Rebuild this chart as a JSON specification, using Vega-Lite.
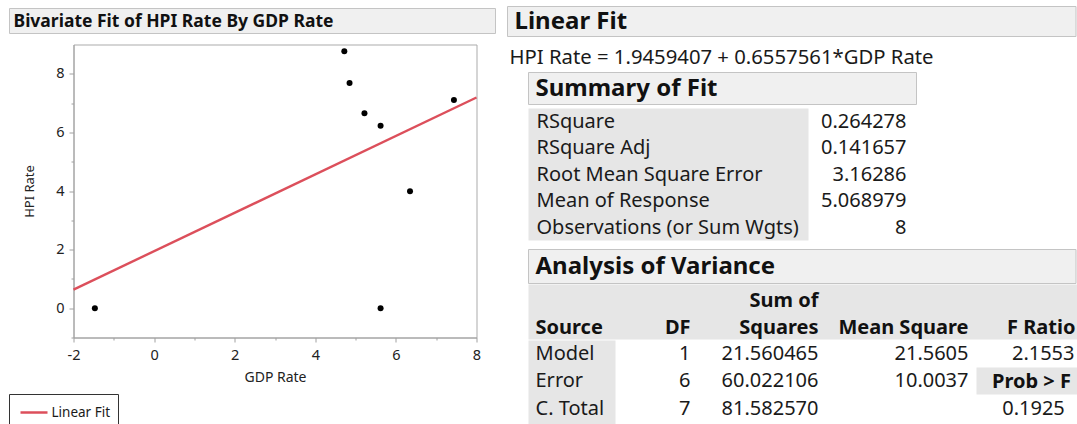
{
  "$schema": "https://vega.github.io/schema/vega-lite/v6.json",
  "width": 403,
  "height": 293,
  "autosize": {"type": "pad"},
  "padding": {"left": 8.5, "top": 5.5, "right": 0, "bottom": 0},
  "background": "white",
  "config": {
    "view": {"stroke": "#ababab", "strokeWidth": 1},
    "font": "Noto Sans",
    "text": {"font": "Noto Sans", "color": "#1a1a1a", "baseline": "middle"}
  },
  "datasets": {
    "points": [
      {"GDP Rate": 4.72, "HPI Rate": 8.77},
      {"GDP Rate": 4.85, "HPI Rate": 7.69},
      {"GDP Rate": 5.22, "HPI Rate": 6.65},
      {"GDP Rate": 5.62, "HPI Rate": 6.23},
      {"GDP Rate": 7.44, "HPI Rate": 7.11},
      {"GDP Rate": 6.35, "HPI Rate": 3.99},
      {"GDP Rate": 5.62, "HPI Rate": 0},
      {"GDP Rate": -1.47, "HPI Rate": 0}
    ],
    "fit": [
      {"GDP Rate": -2, "HPI Rate": 0.6344285},
      {"GDP Rate": 8, "HPI Rate": 7.1919895}
    ],
    "summary": [
      {"Statistic": "RSquare", "Value": "0.264278"},
      {"Statistic": "RSquare Adj", "Value": "0.141657"},
      {"Statistic": "Root Mean Square Error", "Value": "3.16286"},
      {"Statistic": "Mean of Response", "Value": "5.068979"},
      {"Statistic": "Observations (or Sum Wgts)", "Value": "8"}
    ],
    "anova": [
      {"Source": "Model", "DF": "1", "Sum of Squares": "21.560465", "Mean Square": "21.5605", "F Ratio": "2.1553", "Prob > F": "0.1925"},
      {"Source": "Error", "DF": "6", "Sum of Squares": "60.022106", "Mean Square": "10.0037", "F Ratio": ""},
      {"Source": "C. Total", "DF": "7", "Sum of Squares": "81.582570", "Mean Square": "", "F Ratio": ""}
    ]
  },
  "layer": [
    {
      "data": {"name": "points"},
      "layer": [
        {
          "data": {"name": "fit"},
          "mark": {"type": "line", "color": "#dc4f5b", "strokeWidth": 2.4},
          "encoding": {
            "x": {"field": "GDP Rate", "type": "quantitative",
              "scale": {"domain": [-2, 8], "nice": false, "zero": false},
              "axis": {"title": "GDP Rate", "values": [-2, 0, 2, 4, 6, 8], "labelExpr": "datum.value + ''", "grid": false, "tickSize": 4.5, "tickColor": "#a0a0a0", "domainColor": "#a0a0a0", "labelFontSize": 14.5, "labelColor": "#222", "labelPadding": 6, "labelFlush": false, "titleFontSize": 14, "titleFontWeight": "normal", "titleColor": "#222", "titlePadding": 9}},
            "y": {"field": "HPI Rate", "type": "quantitative",
              "scale": {"domain": [-1, 9], "nice": false, "zero": false},
              "axis": {"title": "HPI Rate", "values": [0, 2, 4, 6, 8], "grid": false, "tickSize": 4.5, "tickColor": "#a0a0a0", "domainColor": "#a0a0a0", "labelFontSize": 14.5, "labelColor": "#222", "labelPadding": 5, "labelFlush": false, "titleFontSize": 13, "titleFontWeight": "normal", "titleColor": "#222", "titlePadding": 19}}
          }
        },
        {
          "mark": {"type": "circle", "color": "#000", "opacity": 1, "size": 36},
          "encoding": {
            "x": {"field": "GDP Rate", "type": "quantitative"},
            "y": {"field": "HPI Rate", "type": "quantitative"}
          }
        }
      ]
    },
    {
      "data": {"name": "fit"},
      "mark": {"type": "point", "opacity": 0},
      "encoding": {
        "x": {"field": "GDP Rate", "type": "quantitative",
          "scale": {"domain": [-2, 8], "nice": false, "zero": false},
          "axis": {"orient": "bottom", "title": null, "values": [-1, 1, 3, 5, 7], "labels": false, "domain": false, "grid": false, "tickSize": 2.5, "tickColor": "#a0a0a0"}},
        "y": {"field": "HPI Rate", "type": "quantitative",
          "scale": {"domain": [-1, 9], "nice": false, "zero": false},
          "axis": {"orient": "left", "title": null, "values": [-1, 1, 3, 5, 7], "labels": false, "domain": false, "grid": false, "tickSize": 2.5, "tickColor": "#a0a0a0"}}
      }
    },
    {
      "data": {"values": [{"frame": "report"}]},
      "layer": [
        {"mark": {"type": "rect", "fill": "#f0f0f0", "stroke": "#c4c4c4", "strokeWidth": 1},
          "encoding": {"x": {"datum": 9, "type": "quantitative", "scale": {"domain": [0, 1077], "range": [-73, 1004], "nice": false, "zero": false}, "axis": null}, "x2": {"datum": 495},
            "y": {"datum": 8, "type": "quantitative", "scale": {"domain": [0, 424], "range": [-44, 380], "nice": false, "zero": false}, "axis": null}, "y2": {"datum": 33}}},
        {"mark": {"type": "rect", "fill": "#f0f0f0", "stroke": "#c4c4c4", "strokeWidth": 1},
          "encoding": {"x": {"datum": 507, "type": "quantitative", "axis": null}, "x2": {"datum": 1075.5}, "y": {"datum": 6, "type": "quantitative", "axis": null}, "y2": {"datum": 36}}},
        {"mark": {"type": "rect", "fill": "#f0f0f0", "stroke": "#c4c4c4", "strokeWidth": 1},
          "encoding": {"x": {"datum": 528, "type": "quantitative", "axis": null}, "x2": {"datum": 916}, "y": {"datum": 72, "type": "quantitative", "axis": null}, "y2": {"datum": 104}}},
        {"mark": {"type": "rect", "fill": "#e6e6e6"},
          "encoding": {"x": {"datum": 528, "type": "quantitative", "axis": null}, "x2": {"datum": 808}, "y": {"datum": 108, "type": "quantitative", "axis": null}, "y2": {"datum": 240}}},
        {"mark": {"type": "rect", "fill": "#f0f0f0", "stroke": "#c4c4c4", "strokeWidth": 1},
          "encoding": {"x": {"datum": 528, "type": "quantitative", "axis": null}, "x2": {"datum": 1075.5}, "y": {"datum": 249, "type": "quantitative", "axis": null}, "y2": {"datum": 283}}},
        {"mark": {"type": "rect", "fill": "#e6e6e6"},
          "encoding": {"x": {"datum": 528, "type": "quantitative", "axis": null}, "x2": {"datum": 1077}, "y": {"datum": 284, "type": "quantitative", "axis": null}, "y2": {"datum": 339}}},
        {"mark": {"type": "rect", "fill": "#e6e6e6"},
          "encoding": {"x": {"datum": 528, "type": "quantitative", "axis": null}, "x2": {"datum": 615}, "y": {"datum": 340, "type": "quantitative", "axis": null}, "y2": {"datum": 424}}},
        {"mark": {"type": "rect", "fill": "#e6e6e6"},
          "encoding": {"x": {"datum": 976, "type": "quantitative", "axis": null}, "x2": {"datum": 1077}, "y": {"datum": 367, "type": "quantitative", "axis": null}, "y2": {"datum": 394}}},
        {"mark": {"type": "rule", "color": "#333", "strokeWidth": 1},
          "encoding": {"x": {"datum": 9, "type": "quantitative", "axis": null}, "x2": {"datum": 118}, "y": {"datum": 394, "type": "quantitative", "axis": null}}},
        {"mark": {"type": "rule", "color": "#333", "strokeWidth": 1},
          "encoding": {"x": {"datum": 9, "type": "quantitative", "axis": null}, "y": {"datum": 394, "type": "quantitative", "axis": null}, "y2": {"datum": 424}}},
        {"mark": {"type": "rule", "color": "#333", "strokeWidth": 1},
          "encoding": {"x": {"datum": 118, "type": "quantitative", "axis": null}, "y": {"datum": 394, "type": "quantitative", "axis": null}, "y2": {"datum": 424}}},
        {"mark": {"type": "rule", "color": "#dc4f5b", "strokeWidth": 2.5},
          "encoding": {"x": {"datum": 20, "type": "quantitative", "axis": null}, "x2": {"datum": 47}, "y": {"datum": 412, "type": "quantitative", "axis": null}}},
        {"mark": {"type": "text", "align": "left", "fontSize": 13.5},
          "encoding": {"x": {"datum": 51, "type": "quantitative", "axis": null}, "y": {"datum": 412, "type": "quantitative", "axis": null}, "text": {"value": "Linear Fit"}}},
        {"mark": {"type": "text", "align": "left", "fontSize": 17.5, "fontWeight": "bold", "color": "#111"},
          "encoding": {"x": {"datum": 13, "type": "quantitative", "axis": null}, "y": {"datum": 21, "type": "quantitative", "axis": null}, "text": {"value": "Bivariate Fit of HPI Rate By GDP Rate"}}},
        {"mark": {"type": "text", "align": "left", "fontSize": 24, "fontWeight": "bold", "color": "#111"},
          "encoding": {"x": {"datum": 514, "type": "quantitative", "axis": null}, "y": {"datum": 21, "type": "quantitative", "axis": null}, "text": {"value": "Linear Fit"}}},
        {"mark": {"type": "text", "align": "left", "fontSize": 20.3},
          "encoding": {"x": {"datum": 509, "type": "quantitative", "axis": null}, "y": {"datum": 57, "type": "quantitative", "axis": null}, "text": {"value": "HPI Rate = 1.9459407  + 0.6557561*GDP Rate"}}},
        {"mark": {"type": "text", "align": "left", "fontSize": 24, "fontWeight": "bold", "color": "#111"},
          "encoding": {"x": {"datum": 535, "type": "quantitative", "axis": null}, "y": {"datum": 88, "type": "quantitative", "axis": null}, "text": {"value": "Summary of Fit"}}},
        {"mark": {"type": "text", "align": "left", "fontSize": 24, "fontWeight": "bold", "color": "#111"},
          "encoding": {"x": {"datum": 535, "type": "quantitative", "axis": null}, "y": {"datum": 266, "type": "quantitative", "axis": null}, "text": {"value": "Analysis of Variance"}}},
        {"mark": {"type": "text", "align": "right", "fontSize": 20, "fontWeight": "bold", "color": "#111"},
          "encoding": {"x": {"datum": 818, "type": "quantitative", "axis": null}, "y": {"datum": 300, "type": "quantitative", "axis": null}, "text": {"value": "Sum of"}}},
        {"mark": {"type": "text", "align": "left", "fontSize": 20, "fontWeight": "bold", "color": "#111"},
          "encoding": {"x": {"datum": 535, "type": "quantitative", "axis": null}, "y": {"datum": 327, "type": "quantitative", "axis": null}, "text": {"value": "Source"}}},
        {"mark": {"type": "text", "align": "right", "fontSize": 20, "fontWeight": "bold", "color": "#111"},
          "encoding": {"x": {"datum": 690, "type": "quantitative", "axis": null}, "y": {"datum": 327, "type": "quantitative", "axis": null}, "text": {"value": "DF"}}},
        {"mark": {"type": "text", "align": "right", "fontSize": 20, "fontWeight": "bold", "color": "#111"},
          "encoding": {"x": {"datum": 818, "type": "quantitative", "axis": null}, "y": {"datum": 327, "type": "quantitative", "axis": null}, "text": {"value": "Squares"}}},
        {"mark": {"type": "text", "align": "right", "fontSize": 20, "fontWeight": "bold", "color": "#111"},
          "encoding": {"x": {"datum": 968, "type": "quantitative", "axis": null}, "y": {"datum": 327, "type": "quantitative", "axis": null}, "text": {"value": "Mean Square"}}},
        {"mark": {"type": "text", "align": "right", "fontSize": 20, "fontWeight": "bold", "color": "#111"},
          "encoding": {"x": {"datum": 1075, "type": "quantitative", "axis": null}, "y": {"datum": 327, "type": "quantitative", "axis": null}, "text": {"value": "F Ratio"}}},
        {"mark": {"type": "text", "align": "center", "fontSize": 20, "fontWeight": "bold", "color": "#111"},
          "encoding": {"x": {"datum": 1031, "type": "quantitative", "axis": null}, "y": {"datum": 381, "type": "quantitative", "axis": null}, "text": {"value": "Prob > F"}}}
      ]
    },
    {
      "data": {"name": "summary"},
      "layer": [
        {"mark": {"type": "text", "align": "left", "fontSize": 20},
          "encoding": {
            "x": {"datum": 536, "type": "quantitative", "scale": {"domain": [0, 1077], "range": [-73, 1004], "nice": false, "zero": false}, "axis": null},
            "y": {"field": "Statistic", "type": "nominal", "sort": null, "scale": {"type": "point", "range": [77, 183], "padding": 0}, "axis": null},
            "text": {"field": "Statistic"}}},
        {"mark": {"type": "text", "align": "right", "fontSize": 20},
          "encoding": {
            "x": {"datum": 906, "type": "quantitative", "axis": null},
            "y": {"field": "Statistic", "type": "nominal", "sort": null, "axis": null},
            "text": {"field": "Value"}}}
      ]
    },
    {
      "data": {"name": "anova"},
      "layer": [
        {"mark": {"type": "text", "align": "left", "fontSize": 20},
          "encoding": {
            "x": {"datum": 535, "type": "quantitative", "scale": {"domain": [0, 1077], "range": [-73, 1004], "nice": false, "zero": false}, "axis": null},
            "y": {"field": "Source", "type": "nominal", "sort": null, "scale": {"type": "point", "range": [309, 364], "padding": 0}, "axis": null},
            "text": {"field": "Source"}}},
        {"mark": {"type": "text", "align": "right", "fontSize": 20},
          "encoding": {"x": {"datum": 690, "type": "quantitative", "axis": null}, "y": {"field": "Source", "type": "nominal", "sort": null, "axis": null}, "text": {"field": "DF"}}},
        {"mark": {"type": "text", "align": "right", "fontSize": 20},
          "encoding": {"x": {"datum": 818, "type": "quantitative", "axis": null}, "y": {"field": "Source", "type": "nominal", "sort": null, "axis": null}, "text": {"field": "Sum of Squares"}}},
        {"mark": {"type": "text", "align": "right", "fontSize": 20},
          "encoding": {"x": {"datum": 968, "type": "quantitative", "axis": null}, "y": {"field": "Source", "type": "nominal", "sort": null, "axis": null}, "text": {"field": "Mean Square"}}},
        {"mark": {"type": "text", "align": "right", "fontSize": 20},
          "encoding": {"x": {"datum": 1074, "type": "quantitative", "axis": null}, "y": {"field": "Source", "type": "nominal", "sort": null, "axis": null}, "text": {"field": "F Ratio"}}},
        {"transform": [{"filter": "isValid(datum['Prob > F'])"}],
          "mark": {"type": "text", "align": "center", "fontSize": 20},
          "encoding": {"x": {"datum": 1033, "type": "quantitative", "axis": null}, "y": {"datum": "C. Total", "type": "nominal", "axis": null}, "text": {"field": "Prob > F"}}}
      ]
    }
  ],
  "resolve": {"scale": {"x": "independent", "y": "independent"}}
}
